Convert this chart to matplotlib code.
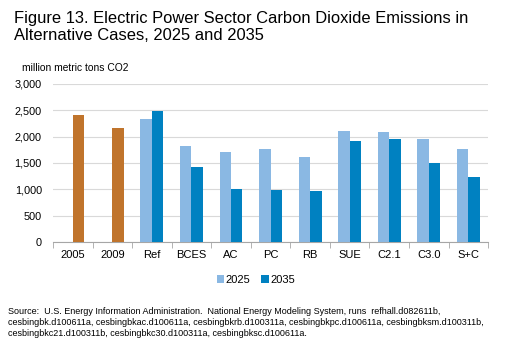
import numpy as np
import matplotlib
matplotlib.use("Agg")
import matplotlib.pyplot as plt

plt.rcParams['font.family'] = ['Liberation Sans', 'DejaVu Sans']

categories = ['2005', '2009', 'Ref', 'BCES', 'AC', 'PC', 'RB', 'SUE', 'C2.1', 'C3.0', 'S+C']
history = [2410, 2160, None, None, None, None, None, None, None, None, None]
vals_2025 = [None, None, 2340, 1830, 1710, 1760, 1620, 2110, 2080, 1950, 1760]
vals_2035 = [None, None, 2490, 1430, 1005, 995, 975, 1920, 1950, 1495, 1235]

c_hist = '#C0742C'
c_2025 = '#8AB8E3'
c_2035 = '#0081C1'

fig = plt.figure(figsize=(5.22, 3.55), dpi=100)
ax = fig.add_axes([0.1015, 0.3183, 0.8335, 0.4451])

x = np.arange(len(categories))
w = 0.29

def pick(vals):
    idx = [i for i, v in enumerate(vals) if v is not None]
    return np.array(idx), [vals[i] for i in idx]

hx, hv = pick(history)
ax.bar(hx + w / 2, hv, w, color=c_hist, zorder=3)
x25, v25 = pick(vals_2025)
ax.bar(x25 - w / 2, v25, w, color=c_2025, zorder=3, label='2025')
x35, v35 = pick(vals_2035)
ax.bar(x35 + w / 2, v35, w, color=c_2035, zorder=3, label='2035')

ax.set_xlim(-0.5, len(categories) - 0.5)
ax.set_ylim(0, 3000)
ax.set_yticks(range(0, 3001, 500))
ax.set_yticklabels([f'{v:,}' for v in range(0, 3001, 500)], fontsize=7.8)
ax.yaxis.grid(True, color='#D9D9D9', linewidth=0.8, zorder=0)
ax.tick_params(axis='y', length=0, pad=8)

ax.set_xticks(x)
ax.set_xticklabels(categories, fontsize=8)
ax.tick_params(axis='x', length=0, pad=6)
ax.set_xticks(np.arange(-0.5, len(categories)), minor=True)
ax.tick_params(axis='x', which='minor', length=4, color='#A6A6A6', direction='out')

for s in ['top', 'right', 'left']:
    ax.spines[s].set_visible(False)
ax.spines['bottom'].set_color('#A6A6A6')

fig.legend(loc='center', bbox_to_anchor=(0.49, 0.211), ncol=2, frameon=False,
           fontsize=8, handlelength=0.7, handleheight=0.7, handletextpad=0.1,
           columnspacing=1.0)

fig.text(0.026, 0.968, 'Figure 13. Electric Power Sector Carbon Dioxide Emissions in\nAlternative Cases, 2025 and 2035',
         fontsize=11.9, va='top', ha='left', linespacing=1.12)
fig.text(0.042, 0.808, 'million metric tons CO2', fontsize=7.4, va='center', ha='left')

fig.text(0.015, 0.092, 'Source:  U.S. Energy Information Administration.  National Energy Modeling System, runs  refhall.d082611b,\n'
         'cesbingbk.d100611a, cesbingbkac.d100611a, cesbingbkrb.d100311a, cesbingbkpc.d100611a, cesbingbksm.d100311b,\n'
         'cesbingbkc21.d100311b, cesbingbkc30.d100311a, cesbingbksc.d100611a.',
         fontsize=6.5, va='center', ha='left', linespacing=1.3)

fig.savefig('out.png', dpi=100)
